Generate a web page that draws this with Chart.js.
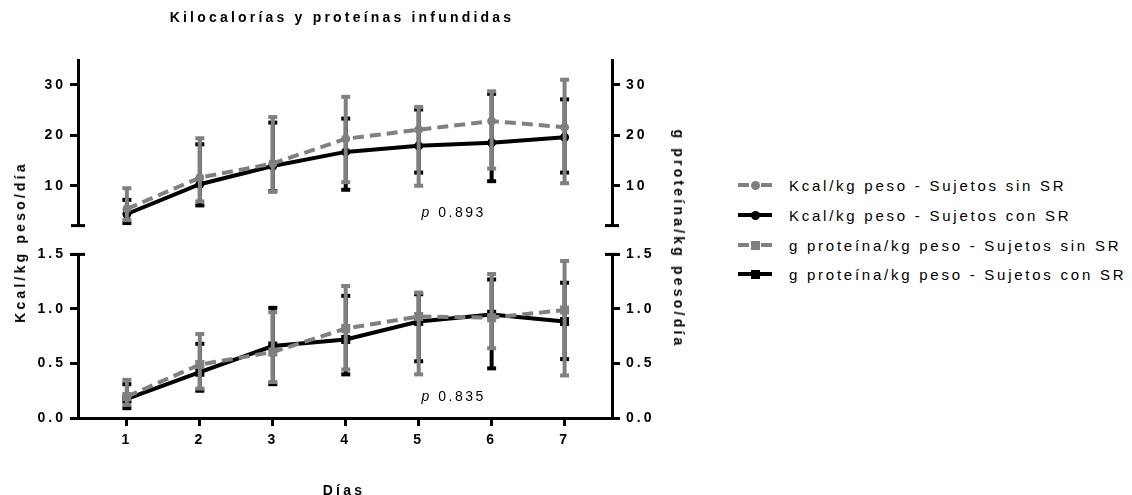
<!DOCTYPE html>
<html>
<head>
<meta charset="utf-8">
<title>Kilocalorías y proteínas infundidas</title>
<script src="https://cdn.jsdelivr.net/npm/chart.js@4.4.1/dist/chart.umd.min.js"></script>
<style>
  html, body { margin: 0; padding: 0; background: #fff; }
  #wrap { position: relative; width: 1132px; height: 495px; overflow: hidden;
          font-family: "Liberation Sans", Arial, sans-serif; color: #000; }
  #wrap canvas { position: absolute; left: 0; }
  .txt { position: absolute; white-space: nowrap; line-height: 1; }
  .bold { font-weight: bold; font-size: 14px; letter-spacing: 3.2px; }
  .center { transform: translate(-50%, -50%); }
  .rotL { transform: translate(-50%, -50%) rotate(-90deg); }
  .rotR { transform: translate(-50%, -50%) rotate(90deg); }
  .leg { position: absolute; left: 0; height: 0; }
  .leg .seg { position: absolute; height: 4px; top: -2px; }
  .leg .mk { position: absolute; width: 9px; height: 9px; top: -4.5px; left: 12.5px; }
  .leg .lab { position: absolute; left: 51px; top: 0; transform: translateY(-50%);
              font-size: 15px; letter-spacing: 2.75px; white-space: nowrap; line-height: 1; }
</style>
</head>
<body>
<div id="wrap">
  <canvas id="topChart" width="700" height="240" style="top:0px"></canvas>
  <canvas id="bottomChart" width="700" height="255" style="top:240px"></canvas>
  <div class="txt bold center" style="left:342px; top:17px;">Kilocalorías y proteínas infundidas</div>
  <div class="txt bold rotL" style="left:20px; top:242px;">Kcal/kg peso/día</div>
  <div class="txt bold rotR" style="left:679px; top:239px;">g proteína/kg peso/día</div>
  <div class="txt bold center" style="left:344px; top:490px;">Días</div>
  <div id="legend" style="position:absolute; left:738px; top:0;"></div>
</div>
<script>
// ---- data ----
const days = [1, 2, 3, 4, 5, 6, 7];
const dayTicks = [1, 2, 3, 4, 5, 6, 7];
const kcalTicks = [10, 20, 30];
const protTicks = [0, 0.5, 1.0, 1.5];

const seriesNames = [
  'Kcal/kg peso - Sujetos sin SR',
  'Kcal/kg peso - Sujetos con SR',
  'g proteína/kg peso - Sujetos sin SR',
  'g proteína/kg peso - Sujetos con SR'
];

// Kcal/kg peso/día (mean, lower and upper end of the error bar)
const kcalSinMean = [5.4, 11.6, 14.4, 19.3, 21.1, 22.8, 21.6];
const kcalSinLow  = [3.2, 6.9, 8.8, 10.7, 10.0, 13.4, 10.5];
const kcalSinHigh = [9.5, 19.4, 23.6, 27.6, 25.6, 28.7, 31.0];
const kcalConMean = [4.4, 10.3, 13.9, 16.7, 17.9, 18.5, 19.6];
const kcalConLow  = [2.6, 6.1, 8.9, 9.2, 12.6, 10.9, 12.6];
const kcalConHigh = [7.2, 18.2, 22.5, 23.3, 25.1, 28.2, 27.1];

// g proteína/kg peso/día
const protSinMean = [0.196, 0.49, 0.605, 0.82, 0.93, 0.92, 0.99];
const protSinLow  = [0.12, 0.27, 0.33, 0.445, 0.40, 0.64, 0.39];
const protSinHigh = [0.35, 0.77, 0.97, 1.21, 1.15, 1.32, 1.44];
const protConMean = [0.175, 0.42, 0.66, 0.72, 0.885, 0.95, 0.885];
const protConLow  = [0.09, 0.25, 0.31, 0.40, 0.52, 0.455, 0.54];
const protConHigh = [0.31, 0.68, 1.01, 1.12, 1.135, 1.27, 1.24];

const pValues = ['0.893', '0.835'];

// ---- styling ----
const FONT = '"Liberation Sans", Arial, sans-serif';
const GRAY = '#808080';
const BLACK = '#000000';
const X_MIN = 0.33, X_MAX = 7.65;
const KCAL_MIN = 2.1, KCAL_MAX = 34.9;
const PROT_MIN = 0, PROT_MAX = 1.5;

// wide letter spacing for all canvas text
const spacingPlugin = {
  id: 'spacing',
  beforeDraw(chart) { chart.ctx.letterSpacing = '3px'; }
};

// mean ± error bars, drawn just before each dataset's line and symbols
const errorBarPlugin = {
  id: 'errorBars',
  beforeDatasetDraw(chart, args) {
    const ds = chart.data.datasets[args.index];
    if (!ds.errLow) return;
    const meta = args.meta;
    const xs = chart.scales[meta.xAxisID];
    const ys = chart.scales[meta.yAxisID];
    const ctx = chart.ctx;
    ctx.save();
    ctx.strokeStyle = ds.borderColor;
    ctx.fillStyle = ds.borderColor;
    ctx.lineWidth = 4;
    ctx.setLineDash([]);
    ds.data.forEach((p, i) => {
      const x = xs.getPixelForValue(p.x);
      const yl = ys.getPixelForValue(ds.errLow[i]);
      const yh = ys.getPixelForValue(ds.errHigh[i]);
      ctx.beginPath();
      ctx.moveTo(x, yl);
      ctx.lineTo(x, yh);
      ctx.stroke();
      ctx.fillRect(x - 4.5, yl - 2, 9, 4);
      ctx.fillRect(x - 4.5, yh - 2, 9, 4);
    });
    ctx.restore();
  }
};

// short end caps at the broken ends of the y axes, plus the p-value note
const decorPlugin = {
  id: 'decor',
  afterDraw(chart, args, opts) {
    const ctx = chart.ctx;
    const area = chart.chartArea;
    ctx.save();
    ctx.fillStyle = '#000';
    (opts.caps || []).forEach(c => {
      const y = chart.scales[c.axis].getPixelForValue(c.value);
      const x = c.side === 'left' ? area.left : area.right;
      ctx.fillRect(x - 7, y - 1.5, 14, 3);
    });
    if (opts.note) {
      const xs = chart.scales.x, ys = chart.scales[opts.note.axis];
      const cx = xs.getPixelForValue(opts.note.x);
      const cy = ys.getPixelForValue(opts.note.y);
      ctx.letterSpacing = '2.5px';
      ctx.textBaseline = 'middle';
      ctx.textAlign = 'left';
      ctx.font = 'italic 14px ' + FONT;
      const w1 = ctx.measureText('p ').width;
      ctx.font = '14px ' + FONT;
      const w2 = ctx.measureText(opts.note.text).width;
      const x0 = cx - (w1 + w2) / 2;
      ctx.font = 'italic 14px ' + FONT;
      ctx.fillText('p ', x0, cy);
      ctx.font = '14px ' + FONT;
      ctx.fillText(opts.note.text, x0 + w1, cy);
    }
    ctx.restore();
  }
};

function yAxis(position, min, max, tickVals, fmt, width) {
  return {
    type: 'linear', position, min, max,
    afterBuildTicks: a => { a.ticks = tickVals.map(v => ({ value: v })); },
    afterFit: a => { a.width = width; },
    border: { display: true, color: '#000', width: 3 },
    grid: { display: true, drawOnChartArea: false, drawTicks: true, tickLength: 8,
            lineWidth: 3, color: '#000' },
    ticks: { color: '#000', autoSkip: false, padding: position === 'left' ? 4 : 6,
             font: { family: FONT, size: 14, weight: 'bold' },
             callback: v => fmt(v) }
  };
}

function series(label, means, lows, highs, color, dashed, style, radius) {
  return {
    label,
    data: days.map((d, i) => ({ x: d, y: means[i] })),
    errLow: lows, errHigh: highs,
    borderColor: color, backgroundColor: color,
    borderWidth: 4, borderDash: dashed ? [11, 6] : [],
    tension: 0, fill: false,
    pointStyle: style, pointRadius: radius,
    pointBackgroundColor: color, pointBorderColor: color, pointBorderWidth: 0,
    xAxisID: 'x', yAxisID: 'y'
  };
}

const commonOpts = {
  responsive: false, animation: false, devicePixelRatio: 1, events: []
};

// upper panel: Kcal
new Chart(document.getElementById('topChart'), {
  type: 'line',
  data: {
    datasets: [
      series(seriesNames[0], kcalSinMean, kcalSinLow, kcalSinHigh, GRAY, true, 'circle', 4.5),
      series(seriesNames[1], kcalConMean, kcalConLow, kcalConHigh, BLACK, false, 'circle', 4.5)
    ]
  },
  options: Object.assign({}, commonOpts, {
    layout: { padding: { top: 60, bottom: 13, left: 0, right: 0 } },
    scales: {
      x: { type: 'linear', min: X_MIN, max: X_MAX, display: false },
      y: yAxis('left', KCAL_MIN, KCAL_MAX, kcalTicks, v => String(v), 78),
      y2: yAxis('right', KCAL_MIN, KCAL_MAX, kcalTicks, v => String(v), 88)
    },
    plugins: {
      legend: { display: false }, tooltip: { enabled: false },
      decor: {
        caps: [{ axis: 'y', side: 'left', value: KCAL_MIN }, { axis: 'y2', side: 'right', value: KCAL_MIN }],
        note: { text: pValues[0], x: 5.48, y: 4.6, axis: 'y' }
      }
    }
  }),
  plugins: [spacingPlugin, errorBarPlugin, decorPlugin]
});

// lower panel: proteína
new Chart(document.getElementById('bottomChart'), {
  type: 'line',
  data: {
    datasets: [
      series(seriesNames[2], protSinMean, protSinLow, protSinHigh, GRAY, true, 'rect', 6.4),
      series(seriesNames[3], protConMean, protConLow, protConHigh, BLACK, false, 'rect', 6.4)
    ]
  },
  options: Object.assign({}, commonOpts, {
    layout: { padding: { top: 13, bottom: 0, left: 0, right: 0 } },
    scales: {
      x: {
        type: 'linear', position: 'bottom', min: X_MIN, max: X_MAX,
        afterBuildTicks: a => { a.ticks = dayTicks.map(v => ({ value: v })); },
        afterFit: a => { a.height = 77; },
        border: { display: true, color: '#000', width: 3 },
        grid: { display: true, drawOnChartArea: false, drawTicks: true, tickLength: 8,
                lineWidth: 3, color: '#000' },
        ticks: { color: '#000', autoSkip: false, maxRotation: 0, padding: 6,
                 font: { family: FONT, size: 14, weight: 'bold' },
                 callback: v => String(v) }
      },
      y: yAxis('left', PROT_MIN, PROT_MAX, protTicks, v => v.toFixed(1), 78),
      y2: yAxis('right', PROT_MIN, PROT_MAX, protTicks, v => v.toFixed(1), 88)
    },
    plugins: {
      legend: { display: false }, tooltip: { enabled: false },
      decor: {
        caps: [{ axis: 'y', side: 'left', value: PROT_MAX }, { axis: 'y2', side: 'right', value: PROT_MAX }],
        note: { text: pValues[1], x: 5.48, y: 0.195, axis: 'y' }
      }
    }
  }),
  plugins: [spacingPlugin, errorBarPlugin, decorPlugin]
});

// legend
const legendRows = [185, 215, 245, 274];
const legendColors = [GRAY, BLACK, GRAY, BLACK];
const legendShapes = ['circle', 'circle', 'square', 'square'];
const legend = document.getElementById('legend');
seriesNames.forEach((name, i) => {
  const row = document.createElement('div');
  row.className = 'leg';
  row.style.top = legendRows[i] + 'px';
  const col = legendColors[i];
  const segs = col === GRAY ? [[0, 11], [23, 11]] : [[0, 34]];
  segs.forEach(([l, w]) => {
    const s = document.createElement('div');
    s.className = 'seg';
    s.style.left = l + 'px'; s.style.width = w + 'px'; s.style.background = col;
    row.appendChild(s);
  });
  const mk = document.createElement('div');
  mk.className = 'mk';
  mk.style.background = col;
  if (legendShapes[i] === 'circle') mk.style.borderRadius = '50%';
  row.appendChild(mk);
  const lab = document.createElement('div');
  lab.className = 'lab';
  lab.textContent = name;
  row.appendChild(lab);
  legend.appendChild(row);
});
</script>
</body>
</html>
